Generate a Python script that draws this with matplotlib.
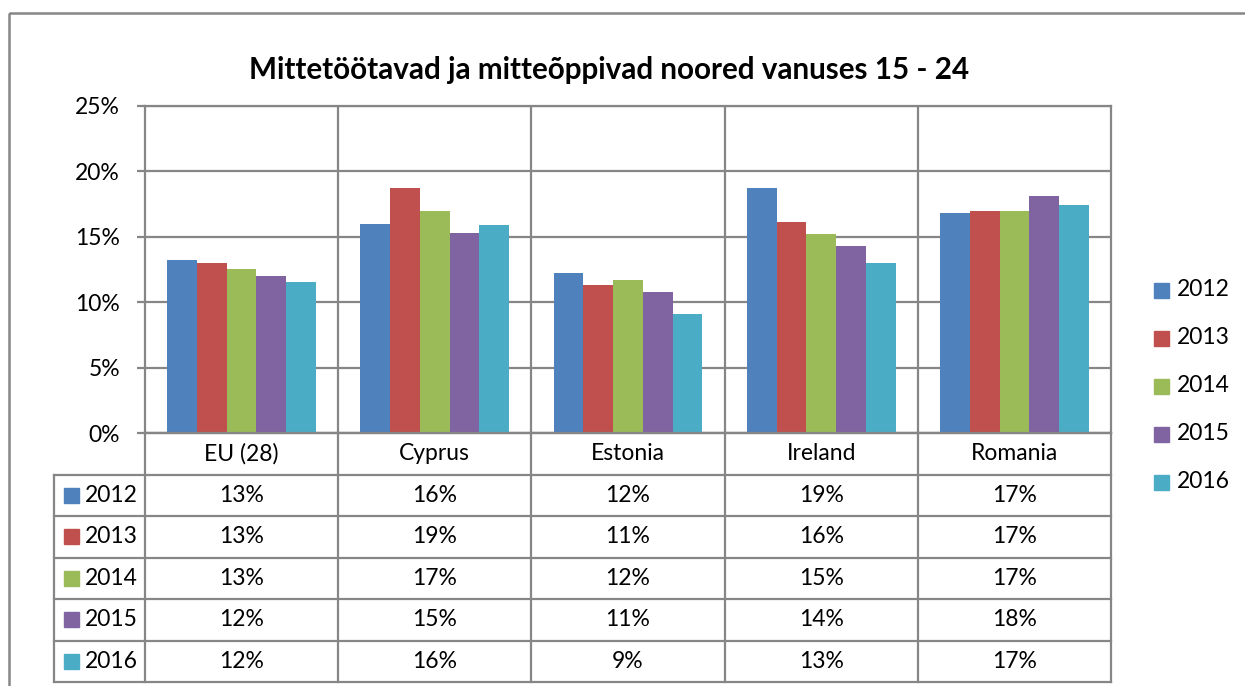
import matplotlib.pyplot as plt
from matplotlib.patches import Rectangle

## Data (percent)
countries = ["EU (28)", "Cyprus", "Estonia", "Ireland", "Romania"]
years = ["2012", "2013", "2014", "2015", "2016"]
v2012 = [13.2, 16.0, 12.2, 18.7, 16.8]
v2013 = [13.0, 18.7, 11.3, 16.1, 17.0]
v2014 = [12.55, 17.0, 11.7, 15.2, 17.0]
v2015 = [12.0, 15.3, 10.8, 14.3, 18.1]
v2016 = [11.55, 15.9, 9.1, 13.0, 17.4]
series = [v2012, v2013, v2014, v2015, v2016]
colors = ["#4F81BD", "#C0504D", "#9BBB59", "#8064A2", "#4BACC6"]
title = "Mittetöötavad ja mitteõppivad noored vanuses 15 - 24"

plt.rcParams['font.family'] = ['Lato', 'DejaVu Sans']
gray = "#868686"
fs = 16.5

W, H = 1245, 686
fig = plt.figure(figsize=(12.45, 6.86), dpi=100)

def box(x0, y0, x1, y1):
    return [x0 / W, 1 - y1 / H, (x1 - x0) / W, (y1 - y0) / H]

## Bars
ax = fig.add_axes(box(145, 106, 1111, 433))
n = len(countries)
bw = 0.154
for j, vals in enumerate(series):
    xs = [i + (j - 2) * bw for i in range(n)]
    ax.bar(xs, vals, bw, color=colors[j], linewidth=0, zorder=3)
ax.set_xlim(-0.5, n - 0.5)
ax.set_ylim(0, 25)
ax.set_yticks(range(0, 26, 5))
ax.set_yticklabels([f"{t}%" for t in range(0, 26, 5)], fontsize=fs)
ax.set_xticks([])
ax.yaxis.grid(True, color=gray, lw=1.6)
ax.set_axisbelow(True)
for s in ax.spines.values():
    s.set_color(gray)
    s.set_linewidth(1.6)
ax.tick_params(axis='y', length=6, width=1.6, color=gray, pad=12)
for i in range(n - 1):
    ax.axvline(i + 0.5, color=gray, lw=1.6, zorder=1)

## Data table
tax = fig.add_axes(box(145, 433, 1111, 682))
tax.set_xlim(-0.5, n - 0.5)
tax.set_ylim(6, 0)
tax.axis('off')
cw = 966 / n          # px per category
rh = 249 / 6          # px per row
key_left = -0.5 - 91 / cw
for r in range(7):
    x0 = -0.5 if r == 0 else key_left
    tax.plot([x0, n - 0.5], [r, r], color=gray, lw=1.6, clip_on=False)
for i in range(n + 1):
    tax.plot([i - 0.5, i - 0.5], [0, 6], color=gray, lw=1.6, clip_on=False)
tax.plot([key_left, key_left], [1, 6], color=gray, lw=1.6, clip_on=False)
for i, c in enumerate(countries):
    tax.text(i, 0.5, c, ha='center', va='center', fontsize=fs)
for j, vals in enumerate(series):
    for i, v in enumerate(vals):
        tax.text(i, j + 1.5, f"{int(v + 0.5)}%", ha='center', va='center', fontsize=fs)
    tax.add_patch(Rectangle((key_left + 10 / cw, j + 1.5 - 7.5 / rh), 15 / cw, 15 / rh,
                            color=colors[j], clip_on=False))
    tax.text(key_left + 31 / cw, j + 1.5, years[j], ha='left', va='center', fontsize=fs)

## Overlay: frame, title, legend
ov = fig.add_axes([0, 0, 1, 1])
ov.set_xlim(0, W)
ov.set_ylim(H, 0)
ov.axis('off')
ov.add_patch(Rectangle((9, 13), 1400, 900, fill=False, ec=gray, lw=1.8))
ov.text(609, 70, title, ha='center', va='center', fontsize=21.3, fontweight='bold')
for j, y in enumerate(years):
    yc = 290 + 48 * j
    ov.add_patch(Rectangle((1154, yc - 7.5), 15, 15, color=colors[j]))
    ov.text(1177, yc, y, ha='left', va='center', fontsize=fs)

fig.savefig("out.png", dpi=100)
